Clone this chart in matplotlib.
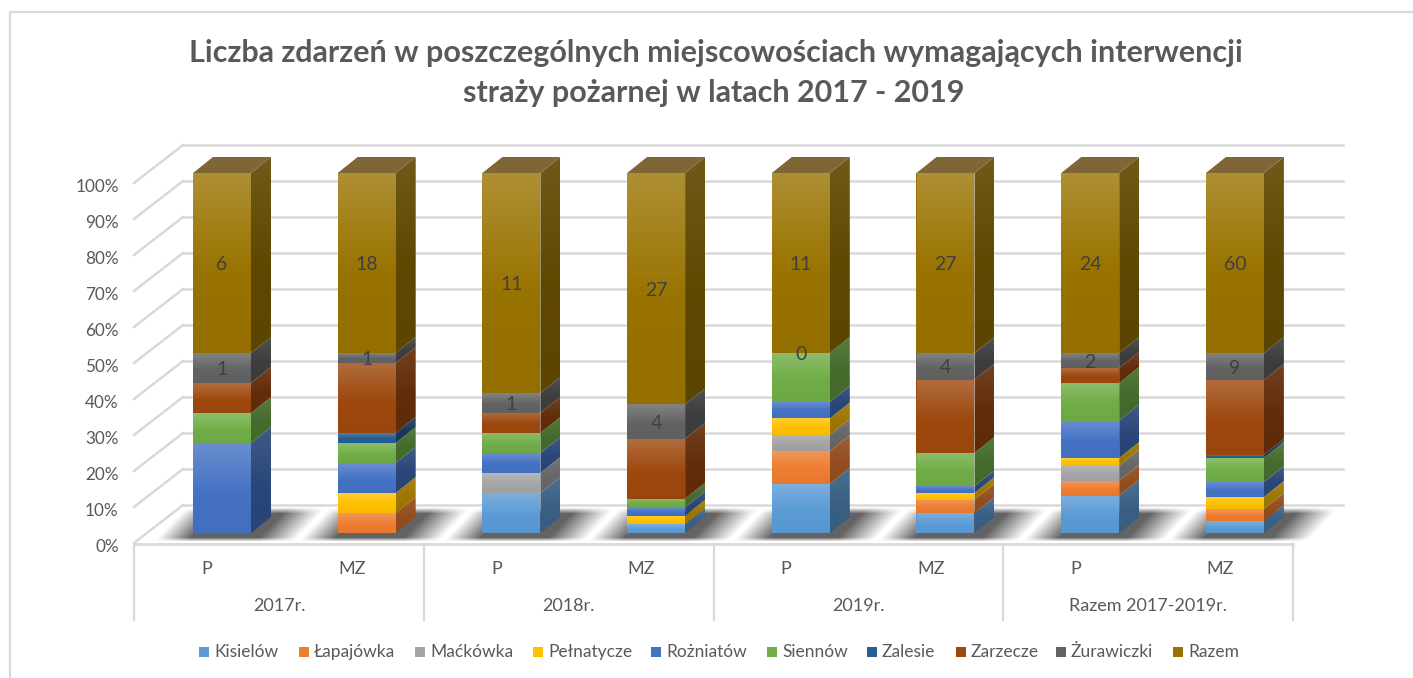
import numpy as np
import matplotlib
matplotlib.use("Agg")
import matplotlib.pyplot as plt
from matplotlib.patches import Polygon
from matplotlib.colors import to_rgb

W, H = 1413, 678

years = ["2017r.", "2018r.", "2019r.", "Razem 2017-2019r."]
kinds = ["P", "MZ", "P", "MZ", "P", "MZ", "P", "MZ"]
names = ["Kisielów", "Łapajówka", "Maćkówka", "Pełnatycze", "Rożniatów",
         "Siennów", "Zalesie", "Zarzecze", "Żurawiczki", "Razem"]
colors = ["#5B9BD5", "#ED7D31", "#A5A5A5", "#FFC000", "#4472C4",
          "#70AD47", "#255E91", "#9E480E", "#636363", "#997300"]

kisielow = [0, 0, 2, 1, 3, 3, 5, 4]
lapajowka = [0, 2, 0, 0, 2, 2, 2, 4]
mackowka = [0, 0, 1, 0, 1, 0, 2, 0]
pelnatycze = [0, 2, 0, 1, 1, 1, 1, 4]
rozniatow = [3, 3, 1, 1, 1, 1, 5, 5]
siennow = [1, 2, 1, 1, 3, 5, 5, 8]
zalesie = [0, 1, 0, 0, 0, 0, 0, 1]
zarzecze = [1, 7, 1, 7, 0, 11, 2, 25]
zurawiczki = [1, 1, 1, 4, 0, 4, 2, 9]
razem = [6, 18, 11, 27, 11, 27, 24, 60]

series = [kisielow, lapajowka, mackowka, pelnatycze, rozniatow,
          siennow, zalesie, zarzecze, zurawiczki, razem]
labelled = ["Żurawiczki", "Razem"]

plt.rcParams["font.family"] = ["Lato", "DejaVu Sans"]
GREY = "#595959"
LINE = "#D9D9D9"


def axes_px(fig, x0, y0, x1, y1):
    # pixel box, y measured from the top of the picture
    return fig.add_axes([x0 / W, 1 - y1 / H, (x1 - x0) / W, (y1 - y0) / H])


def shade(ax, col, verts, factor=1.0, tint=0.2):
    # vertical gradient clipped to a polygon, light at the top of the segment
    base = np.array(to_rgb(col)) * factor
    t = np.linspace(0, 1, 40)[:, None]
    light = np.clip(t / 0.55, 0, 1)
    dark = np.clip((t - 0.55) / 0.45, 0, 1)
    img = base + (1 - base) * tint * (1 - light) - base * 0.03 * dark
    img = img[:, None, :]
    xs, ys = zip(*verts)
    im = ax.imshow(img, extent=[min(xs), max(xs), min(ys), max(ys)], aspect="auto",
                   origin="upper", zorder=3, interpolation="bilinear")
    poly = Polygon(verts, closed=True, transform=ax.transData, fc="none", ec="none")
    ax.add_patch(poly)
    poly.set_clip_on(False)
    # side faces stick out of the axes box, so clip on the polygon only
    im.set_clip_box(fig.bbox)
    im.set_clip_path(poly)


fig = plt.figure(figsize=(W / 100, H / 100), dpi=100, facecolor="white")

# background layer, pixel coordinates: chart border, walls, floor and shadows
bg = axes_px(fig, 0, 0, W, H)
bg.set_xlim(0, W)
bg.set_ylim(H, 0)
bg.axis("off")
bg.plot([10, 10, W], [H, 12, 12], color=LINE, lw=1.6)

# front plane of the walls carries the percent scale
wall = axes_px(fig, 134, 185.5, 1293, 545.5)
wall.set_xlim(134, 1293)
wall.set_ylim(0, 100)
wall.patch.set_alpha(0)
for s in wall.spines.values():
    s.set_visible(False)
wall.set_xticks([])
wall.set_yticks(np.arange(0, 101, 10))
wall.set_yticklabels([f"{v}%" for v in range(0, 101, 10)], fontsize=12.3, color=GREY)
wall.tick_params(axis="y", length=0, pad=11)

px_per_pct = 3.6
DX, DY = 49, 38
for v in range(0, 101, 10):
    yb = 543 - v * px_per_pct
    bg.plot([134, 134 + DX], [yb, yb - DY], color=LINE, lw=1.8, zorder=1)
    bg.plot([134 + DX, 1343], [yb - DY, yb - DY], color=LINE, lw=1.8, zorder=1)
bg.plot([134, 1293], [544, 544], color=LINE, lw=2, zorder=2)

# bars live on their own scale: x by category, y in percent
bar_w = 58 / 144.7
ax = axes_px(fig, 222 - 72.35, 173, 222 + 7.5 * 144.7, 533)
ax.set_xlim(-0.5, 7.5)
ax.set_ylim(0, 100)
ax.patch.set_alpha(0)
ax.axis("off")
ax.set_autoscale_on(False)

values = np.array(series, dtype=float)
totals = values.sum(axis=0)
shares = values / totals * 100
side_dx = 20 / 144.7
side_dy = 16 / 3.6

# soft floor shadow under each bar
yy, xx = np.mgrid[505:541, 0:W]
for i in range(len(kinds)):
    left = 222 + i * 144.7 - 29
    # slanted band, follows the floor perspective
    skew = (533 - yy) * 0.95
    u = xx - (left - 32) - skew
    fade_x = np.clip(u / 34, 0, 1) * np.clip((140 - u) / 38, 0, 1)
    fade_y = np.clip((541 - yy) / 4, 0, 1) * np.clip((yy - 507) / 6, 0, 1)
    rgba = np.zeros(yy.shape + (4,))
    rgba[..., :3] = 0.36
    rgba[..., 3] = fade_x * fade_y * 0.95
    bg.imshow(rgba, extent=[0, W, 541, 505], aspect="auto", zorder=2.5, interpolation="bilinear")
bg.set_xlim(0, W)
bg.set_ylim(H, 0)

for i in range(len(kinds)):
    bottom = 0.0
    for s, name in enumerate(names):
        h = shares[s][i]
        if h == 0:
            if name in labelled:
                ax.text(i, bottom, f"{int(values[s][i])}", ha="center", va="center_baseline",
                        fontsize=14, color="#404040", zorder=6)
            continue
        x0, x1 = i - bar_w / 2, i + bar_w / 2
        col = colors[s]
        ax.bar(i, h, bar_w, bottom=bottom, color=col, zorder=2)
        shade(ax, col, [(x0, bottom), (x1, bottom), (x1, bottom + h), (x0, bottom + h)])
        shade(ax, col, [(x1, bottom), (x1 + side_dx, bottom + side_dy),
                        (x1 + side_dx, bottom + h + side_dy), (x1, bottom + h)], factor=0.62, tint=0.1)
        if name in labelled:
            ax.text(i, bottom + h / 2, f"{int(values[s][i])}", ha="center", va="center_baseline",
                    fontsize=14, color="#404040", zorder=6)
        bottom += h
    top = [(x0, 100), (x1, 100), (x1 + side_dx, 100 + side_dy), (x0 + side_dx, 100 + side_dy)]
    ax.add_patch(Polygon(top, closed=True, fc="#7F6636", ec="none", zorder=4, clip_on=False))

ax.set_xlim(-0.5, 7.5)
ax.set_ylim(0, 100)

# multi level category axis
for x in [134, 424, 714, 1003, 1293]:
    bg.plot([x, x], [544, 620], color=LINE, lw=1.6, zorder=2)
for i, k in enumerate(kinds):
    bg.text(207 + i * 144.75, 569, k, ha="center", va="center", fontsize=13, color=GREY)
for i, y in enumerate(years):
    bg.text(279 + i * 289.6, 606, y, ha="center", va="center", fontsize=13, color=GREY)

# title
bg.text(716, 53, "Liczba zdarzeń w poszczególnych miejscowościach wymagających interwencji",
        ha="center", va="center", fontsize=22, fontweight="bold", color=GREY)
bg.text(714, 93, "straży pożarnej w latach 2017 - 2019",
        ha="center", va="center", fontsize=22, fontweight="bold", color=GREY)

# legend
leg_x = [199, 299, 415, 533, 651, 767, 867, 956, 1056, 1173]
for x, name, col in zip(leg_x, names, colors):
    bg.add_patch(Polygon([(x, 647), (x + 10, 647), (x + 10, 657), (x, 657)], closed=True, fc=col, ec="none"))
    bg.text(x + 15, 652, name, ha="left", va="center", fontsize=12.5, color=GREY)

fig.savefig("out.png", dpi=100)
